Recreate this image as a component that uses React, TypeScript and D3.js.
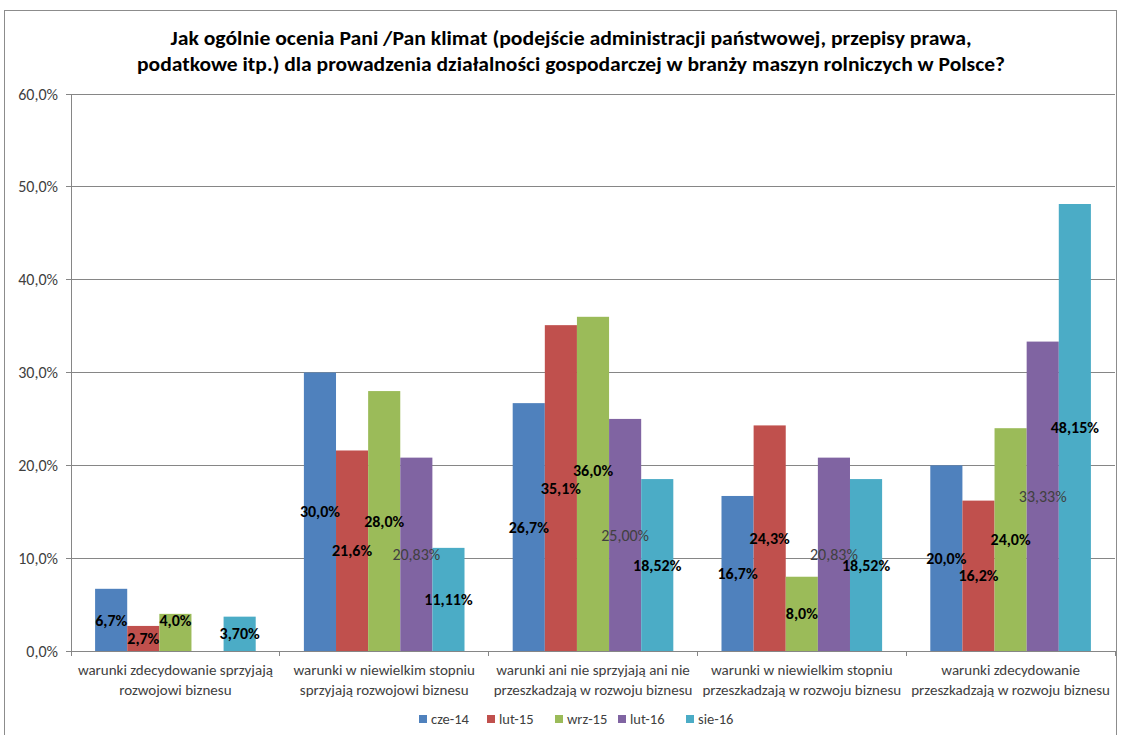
import React from "react";
import * as d3 from "d3";

const categories: string[][] = [
  ["warunki zdecydowanie sprzyjają", "rozwojowi biznesu"],
  ["warunki w niewielkim stopniu", "sprzyjają rozwojowi biznesu"],
  ["warunki ani nie sprzyjają ani nie", "przeszkadzają w rozwoju biznesu"],
  ["warunki w niewielkim stopniu", "przeszkadzają w rozwoju biznesu"],
  ["warunki zdecydowanie", "przeszkadzają w rozwoju biznesu"],
];

const seriesNames = ["cze-14", "lut-15", "wrz-15", "lut-16", "sie-16"];
const seriesColors = ["#4F81BD", "#C0504D", "#9BBB59", "#8064A2", "#4BACC6"];
const seriesDecimals = [1, 1, 1, 2, 2];

const cze14 = [6.7, 30.0, 26.7, 16.7, 20.0];
const lut15 = [2.7, 21.6, 35.1, 24.3, 16.2];
const wrz15 = [4.0, 28.0, 36.0, 8.0, 24.0];
const lut16: (number | null)[] = [null, 20.83, 25.0, 20.83, 33.33];
const sie16 = [3.7, 11.11, 18.52, 18.52, 48.15];
const seriesValues: (number | null)[][] = [cze14, lut15, wrz15, lut16, sie16];

const yTicks = [0, 10, 20, 30, 40, 50, 60];

const titleLines = [
  "Jak ogólnie ocenia Pani /Pan klimat (podejście administracji państwowej, przepisy prawa,",
  "podatkowe itp.) dla prowadzenia działalności gospodarczej w branży maszyn rolniczych w Polsce?",
];

const W = 1121;
const H = 735;
const plotLeft = 71;
const plotRight = 1115;
const plotTop = 94;
const plotBottom = 651;
const FONT = "Carlito, Calibri, 'Liberation Sans', Arial, sans-serif";

const locale = d3.formatLocale({
  decimal: ",",
  thousands: " ",
  grouping: [3],
  currency: ["", " zł"],
});

export default function App() {
  const y = d3.scaleLinear().domain([0, 60]).range([plotBottom, plotTop]);
  const x0 = d3
    .scaleBand<number>()
    .domain(categories.map((_, i) => i))
    .range([plotLeft, plotRight])
    .padding(0);
  const x1 = d3
    .scaleBand<number>()
    .domain(seriesNames.map((_, i) => i))
    .range([0, x0.bandwidth()])
    .paddingInner(0)
    .paddingOuter(0.75);

  const yFmt = locale.format(".1f");
  const legendX = [419, 487, 555, 618, 686];

  // label positions: centered in bar, nudged up when colliding with previous label
  const labelPos = categories.map((_, ci) => {
    const out: ({ cx: number; cy: number } | null)[] = [];
    let prev: { cy: number; v: number } | null = null;
    seriesValues.forEach((vals, si) => {
      const v = vals[ci];
      if (v === null || v === undefined) {
        out.push(null);
        prev = null;
        return;
      }
      const cx = (x1(si) as number) + x1.bandwidth() / 2;
      let cy = (y(v) + plotBottom) / 2;
      if (prev && Math.abs(cy - prev.cy) < 13 && v > prev.v) {
        cy = Math.min(cy, prev.cy - 18);
      }
      out.push({ cx, cy });
      prev = { cy, v };
    });
    return out;
  });

  return (
    <svg width={W} height={H} style={{ display: "block", position: "absolute", left: 0, top: 0 }} fontFamily={FONT}>
      <rect x={0} y={0} width={W} height={H} fill="#fff" />
      <rect x={4.5} y={10.5} width={1112} height={740} fill="none" stroke="#8c8c8c" strokeWidth={1} />

      {titleLines.map((t, i) => (
        <text
          key={i}
          x={571}
          y={45 + i * 26}
          textAnchor="middle"
          fontSize={20}
          fontWeight="bold"
          fill="#000"
          textLength={i === 0 ? 801 : 868}
          lengthAdjust="spacingAndGlyphs"
        >
          {t}
        </text>
      ))}

      {/* gridlines */}
      {yTicks.map((t) => (
        <g key={t}>
          {t > 0 && (
            <line x1={plotLeft} x2={plotRight} y1={y(t)} y2={y(t)} stroke="#868686" strokeWidth={1} shapeRendering="crispEdges" />
          )}
          <line x1={plotLeft - 5} x2={plotLeft} y1={y(t)} y2={y(t)} stroke="#868686" shapeRendering="crispEdges" />
          <text x={58} y={y(t)} dy="0.35em" textAnchor="end" fontSize={16} fill="#404040">
            {yFmt(t) + "%"}
          </text>
        </g>
      ))}

      {/* axes */}
      <line x1={plotLeft} x2={plotLeft} y1={plotTop} y2={plotBottom} stroke="#868686" shapeRendering="crispEdges" />
      <line x1={plotLeft} x2={plotRight} y1={plotBottom} y2={plotBottom} stroke="#868686" shapeRendering="crispEdges" />
      {d3.range(categories.length + 1).map((i) => {
        const xx = i < categories.length ? (x0(i) as number) : plotRight;
        return (
          <line key={i} x1={xx} x2={xx} y1={plotBottom} y2={plotBottom + 5} stroke="#868686" shapeRendering="crispEdges" />
        );
      })}

      {/* bars */}
      {categories.map((_, ci) => (
        <g key={ci} transform={`translate(${x0(ci)},0)`}>
          {seriesValues.map((vals, si) => {
            const v = vals[ci];
            if (v === null || v === undefined) return null;
            const bx = x1(si) as number;
            return (
              <rect
                key={si}
                x={bx}
                y={y(v)}
                width={x1.bandwidth()}
                height={plotBottom - y(v)}
                fill={seriesColors[si]}
              />
            );
          })}
        </g>
      ))}

      {/* data labels */}
      {categories.map((_, ci) => (
        <g key={ci} transform={`translate(${x0(ci)},0)`}>
          {seriesValues.map((vals, si) => {
            const v = vals[ci];
            const p = labelPos[ci][si];
            if (v === null || v === undefined || !p) return null;
            const isPurple = si === 3;
            return (
              <text
                key={si}
                x={p.cx}
                y={p.cy}
                dy="0.35em"
                textAnchor="middle"
                fontSize={16}
                fontWeight={isPurple ? "normal" : "bold"}
                fill={isPurple ? "#404040" : "#000"}
              >
                {locale.format(`.${seriesDecimals[si]}f`)(v) + "%"}
              </text>
            );
          })}
        </g>
      ))}

      {/* category labels */}
      {categories.map((lines, ci) => {
        const cx = (x0(ci) as number) + x0.bandwidth() / 2;
        return (
          <text key={ci} x={cx} y={675} textAnchor="middle" fontSize={15} fill="#404040">
            {lines.map((l, li) => (
              <tspan key={li} x={cx} dy={li === 0 ? 0 : 20}>
                {l}
              </tspan>
            ))}
          </text>
        );
      })}

      {/* legend */}
      {seriesNames.map((n, si) => (
        <g key={n}>
          <rect x={legendX[si]} y={715} width={8} height={8} fill={seriesColors[si]} />
          <text x={legendX[si] + 12} y={719} dy="0.35em" fontSize={14.5} fill="#404040">
            {n}
          </text>
        </g>
      ))}
    </svg>
  );
}
